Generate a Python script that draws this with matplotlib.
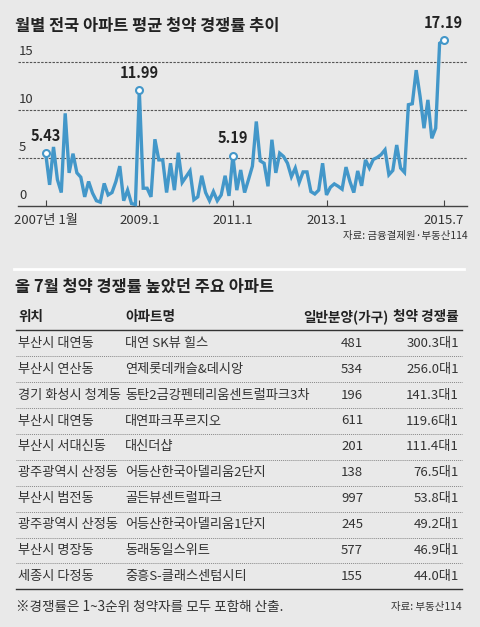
import matplotlib
matplotlib.use("Agg")
import matplotlib.pyplot as plt
import numpy as np

plt.rcParams["font.family"] = ["Noto Sans CJK KR", "DejaVu Sans"]

# ── 데이터 ────────────────────────────────────────────────────────────────────
# 2007.1 ~ 2015.7 월별 평균 청약 경쟁률
rates = [
    5.43, 2.15, 6.1, 2.7, 1.35, 9.6, 3.4, 5.4, 3.4, 2.95, 0.9, 2.5,      # 2007
    1.3, 0.5, 0.35, 2.3, 1.1, 1.35, 2.5, 4.1, 0.5, 1.6, 0.2, 0.1,        # 2008
    11.99, 1.8, 1.8, 0.9, 6.9, 4.75, 4.75, 1.35, 4.4, 1.6, 5.5, 2.4,     # 2009
    3.0, 3.6, 0.6, 0.9, 3.1, 1.35, 0.5, 1.45, 0.5, 1.1, 3.1, 1.0,        # 2010
    5.19, 1.6, 3.7, 1.35, 2.7, 4.1, 8.75, 4.65, 4.4, 2.0, 6.85, 3.4,     # 2011
    5.45, 5.1, 4.4, 3.0, 3.9, 2.4, 3.5, 3.5, 1.45, 1.2, 1.6, 4.4,        # 2012
    1.1, 1.9, 2.25, 2.0, 1.7, 4.0, 2.5, 1.35, 3.6, 2.05, 4.75, 3.9,      # 2013
    4.8, 5.0, 5.3, 5.8, 3.2, 3.65, 6.3, 3.9, 3.45, 10.5, 10.6, 14.1,     # 2014
    11.35, 8.05, 11.0, 7.0, 8.05, 16.9, 17.19,                           # 2015
]
tick_months = [0, 24, 48, 72, 102]
tick_labels = ["2007년 1월", "2009.1", "2011.1", "2013.1", "2015.7"]
highlight = [0, 24, 48, 102]
y_ticks = [0, 5, 10, 15]

locations = ["부산시 대연동", "부산시 연산동", "경기 화성시 청계동", "부산시 대연동",
             "부산시 서대신동", "광주광역시 산정동", "부산시 범전동", "광주광역시 산정동",
             "부산시 명장동", "세종시 다정동"]
apt_names = ["대연 SK뷰 힐스", "연제롯데캐슬&데시앙", "동탄2금강펜테리움센트럴파크3차",
             "대연파크푸르지오", "대신더샵", "어등산한국아델리움2단지", "골든뷰센트럴파크",
             "어등산한국아델리움1단지", "동래동일스위트", "중흥S-클래스센텀시티"]
units = [481, 534, 196, 611, 201, 138, 997, 245, 577, 155]
ratios = [300.3, 256.0, 141.3, 119.6, 111.4, 76.5, 53.8, 49.2, 46.9, 44.0]

# ── 레이아웃 ──────────────────────────────────────────────────────────────────
W, H = 480, 627
BG = "#e9e9e9"
LINE = "#4397c9"
TXT = "#222222"

fig = plt.figure(figsize=(W / 100, H / 100), dpi=100, facecolor=BG)


def fx(x):
    return x / W


def fy(y):
    return 1 - y / H


def ptext(x, y, s, **kw):
    fig.text(fx(x), fy(y), s, **kw)


# 제목
ptext(15, 26, "월별 전국 아파트 평균 청약 경쟁률 추이", fontsize=11.8, fontweight="bold",
      color=TXT, va="center", ha="left")

# ── 꺾은선 차트 ────────────────────────────────────────────────────────────────
ax_left, ax_right, ax_top, ax_bottom = 18, 467, 40, 205.5
ax = fig.add_axes([fx(ax_left), fy(ax_bottom), (ax_right - ax_left) / W,
                   (ax_bottom - ax_top) / H])
ax.set_facecolor(BG)
px_per_month = 3.9
px_per_unit = 9.6
x0 = -(45.7 - ax_left) / px_per_month
ax.set_xlim(x0, x0 + (ax_right - ax_left) / px_per_month)
ax.set_ylim(0, (ax_bottom - ax_top) / px_per_unit)

months = np.arange(len(rates))
for yv in y_ticks[1:]:
    ax.axhline(yv, color="#555555", lw=0.8, ls=(0, (2.2, 1.2)), zorder=1)

ax.plot(months, rates, color=LINE, lw=2.4, zorder=3, solid_joinstyle="miter",
        clip_on=False)
hx = [months[i] for i in highlight]
hy = [rates[i] for i in highlight]
ax.plot(hx, hy, "o", ms=5, mfc="white", mec=LINE, mew=1.5, zorder=4, clip_on=False)
for i in highlight:
    ax.annotate(f"{rates[i]:.2f}", (months[i], rates[i]), xytext=(0, 7),
                textcoords="offset points", ha="center", va="bottom",
                fontsize=10.5, fontweight="bold", color=TXT)

for s in ["top", "left", "right"]:
    ax.spines[s].set_visible(False)
ax.spines["bottom"].set_color("#444444")
ax.spines["bottom"].set_linewidth(1.0)

ax.set_xticks(tick_months)
ax.set_xticklabels(tick_labels, fontsize=9.5, color="#333333")
ax.tick_params(axis="x", direction="in", length=4, width=0.8, color="#444444", pad=6)
ax.set_yticks([])
for yv in y_ticks:
    ax.text(x0 + 0.3, yv + 0.35, str(yv), fontsize=9.5, color="#333333",
            ha="left", va="bottom")

ptext(468, 236, "자료: 금융결제원·부동산114", fontsize=7.5, color="#333333",
      ha="right", va="center")

# 구분선
fig.add_artist(plt.Line2D([fx(14), fx(464)], [fy(268.5), fy(268.5)],
                          color="white", lw=2))

# ── 표 ─────────────────────────────────────────────────────────────────────────
ptext(15, 287, "올 7월 청약 경쟁률 높았던 주요 아파트", fontsize=11.8, fontweight="bold",
      color=TXT, va="center", ha="left")

col_loc, col_name, col_unit, col_ratio = 18, 125, 388, 459
header_y = 317
ptext(col_loc, header_y, "위치", fontsize=9.8, fontweight="bold", color=TXT, va="center")
ptext(col_name, header_y, "아파트명", fontsize=9.8, fontweight="bold", color=TXT, va="center")
ptext(col_unit, header_y, "일반분양(가구)", fontsize=9.8, fontweight="bold", color=TXT,
      va="center", ha="right")
ptext(col_ratio, header_y, "청약 경쟁률", fontsize=9.8, fontweight="bold", color=TXT,
      va="center", ha="right")

line_l, line_r = fx(16), fx(462)
fig.add_artist(plt.Line2D([line_l, line_r], [fy(330), fy(330)], color="#333333", lw=1.0))

row0, row_h = 343.3, 25.9
for k in range(len(locations)):
    y = row0 + k * row_h
    ptext(col_loc, y, locations[k], fontsize=9.5, color="#333333", va="center")
    ptext(col_name, y, apt_names[k], fontsize=9.5, color="#333333", va="center")
    ptext(352, y, str(units[k]), fontsize=9.5, color="#333333", va="center", ha="center")
    ptext(col_ratio, y, f"{ratios[k]:.1f}대1", fontsize=9.5, color="#333333",
          va="center", ha="right")
    if k < len(locations) - 1:
        sep = y + row_h / 2
        fig.add_artist(plt.Line2D([line_l, line_r], [fy(sep), fy(sep)],
                                  color="#888888", lw=0.7, ls=(0, (1, 1))))

fig.add_artist(plt.Line2D([line_l, line_r], [fy(588.5), fy(588.5)], color="#333333", lw=1.0))

ptext(16, 607, "※경쟁률은 1~3순위 청약자를 모두 포함해 산출.", fontsize=9.8,
      color="#333333", va="center")
ptext(462, 607, "자료: 부동산114", fontsize=7.5, color="#333333", va="center", ha="right")

fig.savefig("out.png", dpi=100, facecolor=BG)
